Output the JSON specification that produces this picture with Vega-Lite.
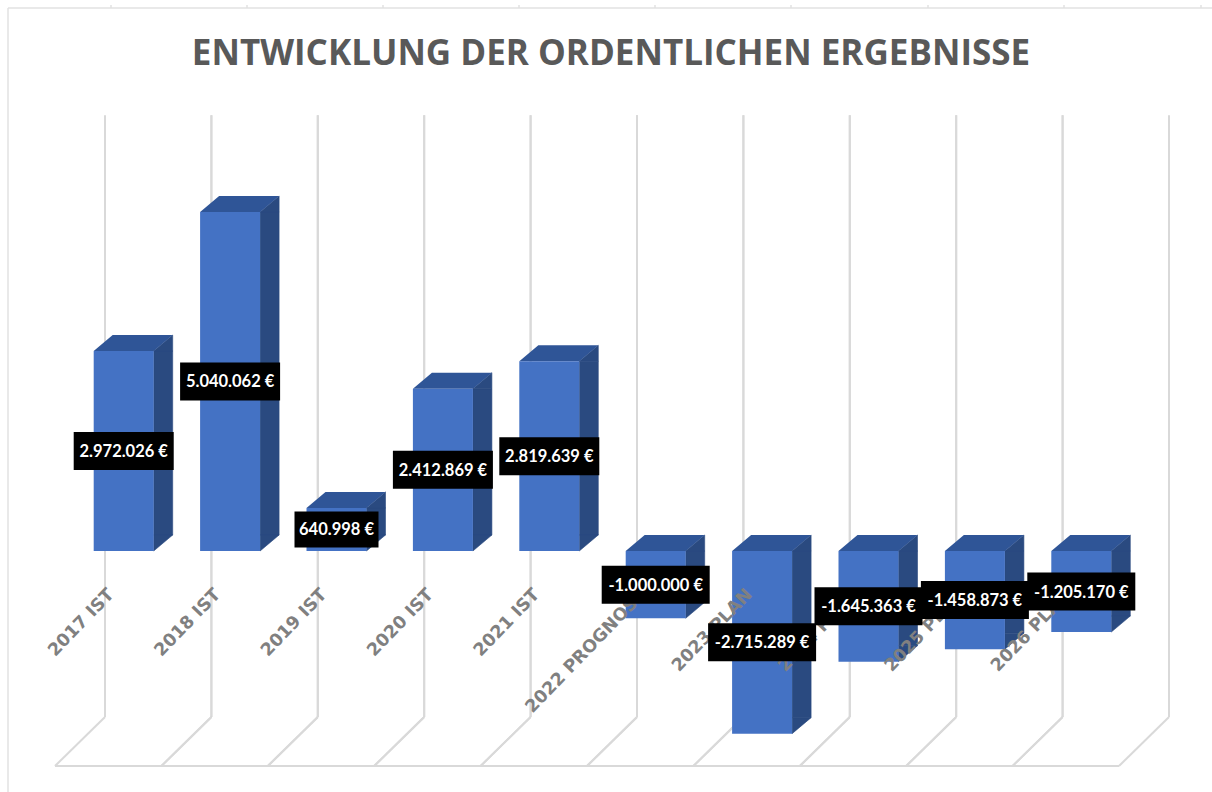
{
"$schema":"https://vega.github.io/schema/vega-lite/v6.json",
"width":1212,"height":692,
"autosize":{"type":"none"},
"padding":{"left":0,"right":0,"top":100,"bottom":0},
"background":"#ffffff",
"title":{"text":"ENTWICKLUNG DER ORDENTLICHEN ERGEBNISSE","font":"Open Sans","fontWeight":"bold","fontSize":35,"color":"#595959","anchor":"middle","offset":-70,"dx":5,"frame":"group"},
"config":{"view":{"stroke":null}},
"data":{"values":[
{"label":"2017 IST","value":2972026,"text":"2.972.026 €"},
{"label":"2018 IST","value":5040062,"text":"5.040.062 €"},
{"label":"2019 IST","value":640998,"text":"640.998 €"},
{"label":"2020 IST","value":2412869,"text":"2.412.869 €"},
{"label":"2021 IST","value":2819639,"text":"2.819.639 €"},
{"label":"2022 PROGNOSE","value":-1000000,"text":"-1.000.000 €"},
{"label":"2023 PLAN","value":-2715289,"text":"-2.715.289 €"},
{"label":"2024 PLAN","value":-1645363,"text":"-1.645.363 €"},
{"label":"2025 PLAN","value":-1458873,"text":"-1.458.873 €"},
{"label":"2026 PLAN","value":-1205170,"text":"-1.205.170 €"}
]},
"transform":[
{"calculate":"max(datum.value,0)","as":"top"},
{"calculate":"min(datum.value,0)","as":"bottom"},
{"calculate":"datum.value/2","as":"mid"},
{"calculate":"length(datum.text)","as":"len"}
],
"encoding":{
"x":{"field":"label","type":"nominal","sort":null,"axis":null,"scale":{"type":"band","range":[105,1169],"paddingInner":0,"paddingOuter":0}}
},
"resolve":{"scale":{"shape":"independent"}},
"layer":[
{"mark":{"type":"rule","color":"#d9d9d9","strokeWidth":2},
 "encoding":{"x":{"field":"label","type":"nominal","sort":null,"bandPosition":0,"axis":null},"y":{"datum":6480000,"type":"quantitative","axis":null,"scale":{"domain":[-3583000,6705000],"zero":false,"nice":false}},"y2":{"datum":-2468000}}},
{"mark":{"type":"rule","color":"#d9d9d9","strokeWidth":2},
 "encoding":{"x":{"field":"label","type":"nominal","sort":null,"bandPosition":1,"axis":null},"y":{"datum":6480000,"type":"quantitative"},"y2":{"datum":-2468000}}},
{"mark":{"type":"point","shape":"M0 0 L-50 49","filled":false,"size":4,"opacity":1,"stroke":"#d9d9d9","strokeWidth":2},
 "encoding":{"x":{"field":"label","type":"nominal","sort":null,"bandPosition":0,"axis":null},"y":{"datum":-2468000,"type":"quantitative"}}},
{"mark":{"type":"point","shape":"M0 0 L-50 49","filled":false,"size":4,"opacity":1,"stroke":"#d9d9d9","strokeWidth":2},
 "encoding":{"x":{"field":"label","type":"nominal","sort":null,"bandPosition":1,"axis":null},"y":{"datum":-2468000,"type":"quantitative"}}},
{"transform":[{"filter":"datum.label==='2017 IST'"}],
 "mark":{"type":"point","shape":"M-50 49 L1014 49","filled":false,"size":4,"opacity":1,"stroke":"#d9d9d9","strokeWidth":2},
 "encoding":{"x":{"field":"label","type":"nominal","sort":null,"bandPosition":0,"axis":null},"y":{"datum":-2468000,"type":"quantitative"}}},
{"transform":[{"filter":"datum.label==='2017 IST'"}],
 "mark":{"type":"point","shape":"M-97 -709 L-97 75 M-97 -709 L1107 -709 M6 -709 L6 -712 M142 -709 L142 -712 M278 -709 L278 -712 M414 -709 L414 -712 M550 -709 L550 -712 M686 -709 L686 -712 M823 -709 L823 -712 M959 -709 L959 -712 M1096 -709 L1096 -712","filled":false,"size":4,"opacity":1,"stroke":"#e2e2e2","strokeWidth":1.5},
 "encoding":{"x":{"field":"label","type":"nominal","sort":null,"bandPosition":0,"axis":null},"y":{"datum":-2468000,"type":"quantitative"}}},
{"mark":{"type":"bar","color":"#2a4a80","stroke":"#2a4a80","strokeWidth":0.6,"width":19,"xOffset":5,"y2Offset":-16},
 "encoding":{"y":{"field":"top","type":"quantitative"},"y2":{"field":"bottom"}}},
{"mark":{"type":"point","shape":"M-4.5 0 L14.5 -16 L14.5 0 Z","filled":true,"size":4,"opacity":1,"color":"#2a4a80","stroke":"#2a4a80","strokeWidth":0.6},
 "encoding":{"y":{"field":"top","type":"quantitative"}}},
{"mark":{"type":"point","shape":"M-4.5 0 L14.5 -16 L-4.5 -16 Z","filled":true,"size":4,"opacity":1,"color":"#2a4a80","stroke":"#2a4a80","strokeWidth":0.6},
 "encoding":{"y":{"field":"bottom","type":"quantitative"}}},
{"mark":{"type":"point","shape":"M-64.5 0 L-4.5 0 L14.5 -16 L-45.5 -16 Z","filled":true,"size":4,"opacity":1,"color":"#2f5597","strokeWidth":0},
 "encoding":{"y":{"field":"top","type":"quantitative"}}},
{"mark":{"type":"bar","color":"#4472c4","width":60,"xOffset":-34.5},
 "encoding":{"y":{"field":"top","type":"quantitative"},"y2":{"field":"bottom"}}},
{"mark":{"type":"text","align":"right","baseline":"middle","angle":-46,"font":"DejaVu Sans","fontSize":17.5,"fontWeight":"bold","color":"#808080","xOffset":-47},
 "encoding":{"y":{"datum":-610000,"type":"quantitative"},"text":{"field":"label"}}},
{"mark":{"type":"point","filled":true,"size":4,"opacity":1,"color":"#000000","strokeWidth":0,"xOffset":-34.5},
 "encoding":{"y":{"field":"mid","type":"quantitative"},
 "shape":{"field":"len","type":"nominal","legend":null,"scale":{"domain":[9,11,12],"range":["M-42 -18 L42 -18 L42 18 L-42 18 Z","M-50 -19 L50 -19 L50 19 L-50 19 Z","M-54 -19 L54 -19 L54 19 L-54 19 Z"]}}}},
{"mark":{"type":"text","align":"center","baseline":"middle","font":"Lato","fontSize":16.5,"fontWeight":"bold","color":"#ffffff","xOffset":-34.5,"yOffset":1},
 "encoding":{"y":{"field":"mid","type":"quantitative"},"text":{"field":"text"}}}
]
}
